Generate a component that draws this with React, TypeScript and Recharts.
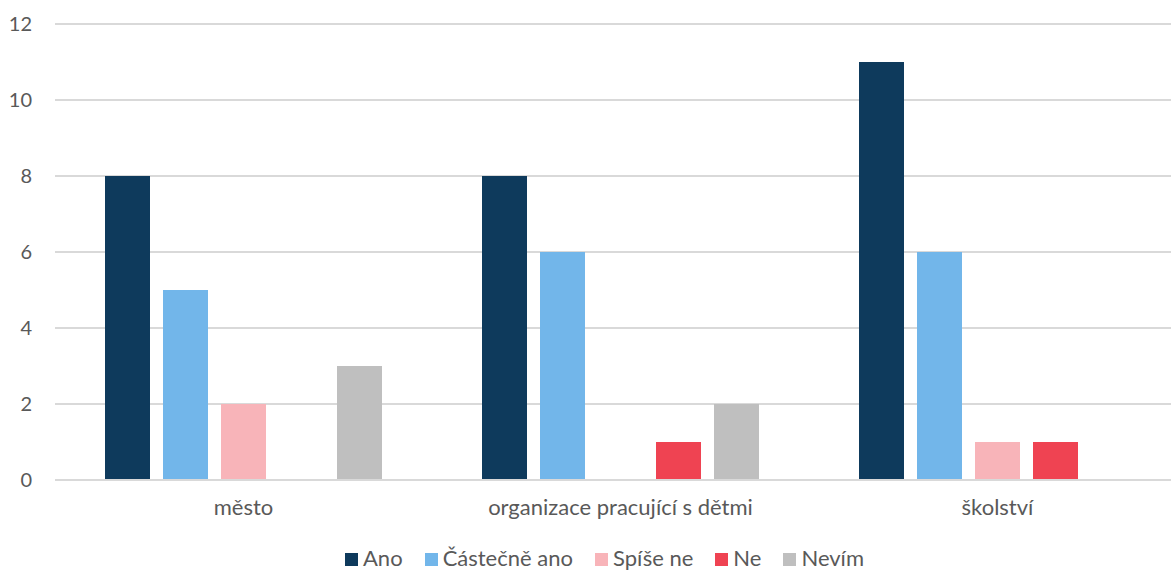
import React from "react";
import { BarChart, Bar, XAxis, YAxis, CartesianGrid, Legend } from "recharts";

const categories = ["město", "organizace pracující s dětmi", "školství"];
const seriesNames = ["Ano", "Částečně ano", "Spíše ne", "Ne", "Nevím"];
const ano = [8, 8, 11];
const castecneAno = [5, 6, 6];
const spiseNe = [2, 0, 1];
const ne = [0, 1, 1];
const nevim = [3, 2, 0];
const yTicks = [0, 2, 4, 6, 8, 10, 12];
const colors = ["#0E3A5C", "#72B6EA", "#F8B4B9", "#EF4352", "#BFBFBF"];

const seriesValues = [ano, castecneAno, spiseNe, ne, nevim];
const data = categories.map((c, i) => {
  const row: Record<string, string | number> = { name: c };
  seriesNames.forEach((s, j) => {
    row[s] = seriesValues[j][i];
  });
  return row;
});

const FONT = "Lato, 'Open Sans', sans-serif";
const TEXT = "#595959";

const LegendContent = () => (
  <div
    style={{
      display: "flex",
      justifyContent: "center",
      fontFamily: FONT,
      fontSize: 22,
      lineHeight: "24px",
      height: 24,
      color: TEXT,
      gap: 22,
      paddingLeft: 38,
    }}
  >
    {seriesNames.map((s, i) => (
      <div key={s} style={{ display: "flex", alignItems: "center" }}>
        <span
          style={{
            display: "inline-block",
            width: 13,
            height: 13,
            background: colors[i],
            marginRight: 5,
            marginTop: 3,
          }}
        />
        <span>{s}</span>
      </div>
    ))}
  </div>
);

export default function App() {
  return (
    <div
      style={{
        position: "absolute",
        left: 0,
        top: 0,
        width: 1171,
        height: 572,
        overflow: "hidden",
        background: "#fff",
      }}
    >
      <BarChart
        width={1186}
        height={572}
        data={data}
        margin={{ top: 24, right: 0, left: 0, bottom: 0 }}
        barCategoryGap={50}
        barGap={13}
      >
        <CartesianGrid vertical={false} stroke="#D9D9D9" strokeWidth={2} />
        <XAxis
          dataKey="name"
          axisLine={{ stroke: "#D9D9D9", strokeWidth: 2 }}
          tickLine={false}
          tickSize={0}
          tickMargin={19}
          height={68}
          tick={{ fill: TEXT, fontFamily: FONT, fontSize: 22 }}
        />
        <YAxis
          domain={[0, 12]}
          ticks={yTicks}
          axisLine={false}
          tickLine={false}
          tickSize={0}
          tickMargin={23}
          width={55}
          interval={0}
          tick={{ fill: TEXT, fontFamily: FONT, fontSize: 20 }}
        />
        <Legend
          verticalAlign="bottom"
          height={24}
          content={<LegendContent />}
          wrapperStyle={{ top: 546, left: 0, width: 1171 }}
        />
        {seriesNames.map((s, i) => (
          <Bar key={s} dataKey={s} fill={colors[i]} isAnimationActive={false} />
        ))}
      </BarChart>
    </div>
  );
}
